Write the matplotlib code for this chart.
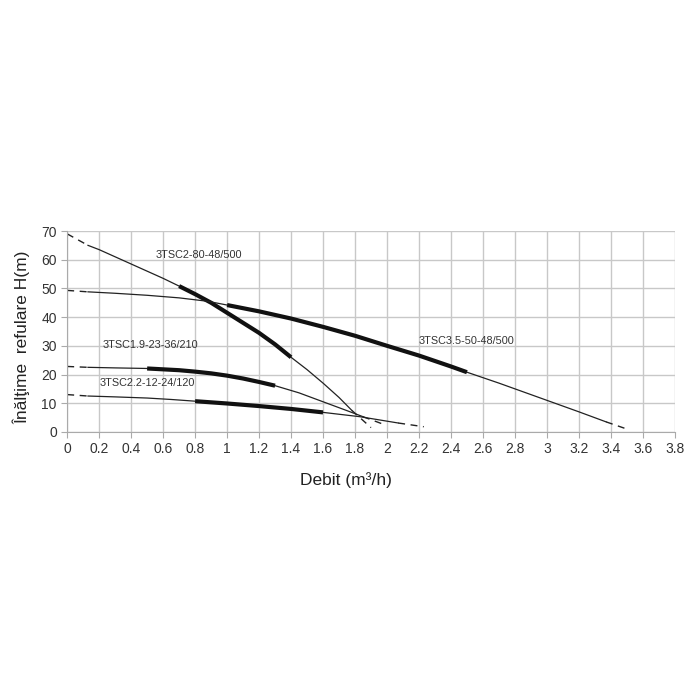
import numpy as np
import matplotlib
matplotlib.use("Agg")
import matplotlib.pyplot as plt

plt.rcParams['font.family'] = ['Liberation Sans', 'DejaVu Sans']

# pump curves: (flow m3/h, head m)
names = ["3TSC2-80-48/500", "3TSC3.5-50-48/500", "3TSC1.9-23-36/210", "3TSC2.2-12-24/120"]

q_2_80 = [0, 0.13, 0.2, 0.3, 0.4, 0.5, 0.6, 0.7, 0.8, 0.9, 1.0, 1.1, 1.2, 1.3, 1.4,
          1.5, 1.6, 1.7, 1.78, 1.9]
h_2_80 = [69, 65, 63.5, 61, 58.5, 56, 53.5, 50.8, 48, 45, 41.5, 38, 34.5, 30.5, 26,
          21.7, 17, 12, 7.5, 1.5]

q_3_5 = [0, 0.13, 0.3, 0.5, 0.7, 0.88, 1.0, 1.2, 1.4, 1.6, 1.8, 2.0, 2.2, 2.4, 2.5,
         2.7, 3.0, 3.2, 3.37, 3.5]
h_3_5 = [49.3, 48.8, 48.3, 47.6, 46.7, 45.5, 44.2, 42, 39.5, 36.6, 33.5, 30, 26.6, 22.8, 20.8,
         17, 11, 7, 3.5, 1]

q_1_9 = [0, 0.13, 0.3, 0.5, 0.7, 0.8, 0.9, 1.0, 1.1, 1.2, 1.3, 1.45, 1.6, 1.75, 1.85, 1.99]
h_1_9 = [22.8, 22.5, 22.3, 22.1, 21.5, 21, 20.4, 19.6, 18.6, 17.4, 16.1, 13.6, 10.5, 7.4, 5.3, 2.4]

q_2_2 = [0, 0.13, 0.3, 0.5, 0.65, 0.8, 1.0, 1.2, 1.4, 1.6, 1.83, 2.07, 2.23]
h_2_2 = [13, 12.5, 12.2, 11.8, 11.3, 10.7, 9.9, 9, 8, 6.8, 5.3, 3.1, 1.8]

# best efficiency range (drawn bold)
thick_from = [0.7, 1.0, 0.5, 0.8]
thick_to = [1.4, 2.5, 1.3, 1.6]

label_pos = [(0.55, 61.5), (2.2, 31.5), (0.22, 30.3), (0.2, 17)]

curves = [(q_2_80, h_2_80), (q_3_5, h_3_5), (q_1_9, h_1_9), (q_2_2, h_2_2)]

fig = plt.figure(figsize=(7, 7), dpi=100)
ax = fig.add_axes([0.096, 0.383, 0.868, 0.287])

for (q, h), a, b, name, pos in zip(curves, thick_from, thick_to, names, label_pos):
    q = np.array(q)
    h = np.array(h)
    # dashed extrapolated ends
    ax.plot(q[:2], h[:2], color='#222222', lw=1.0, ls=(0, (5, 4)))
    ax.plot(q[-2:], h[-2:], color='#222222', lw=1.0, ls=(0, (5, 4)))
    ax.plot(q[1:-1], h[1:-1], color='#222222', lw=0.9)
    m = (q >= a - 1e-9) & (q <= b + 1e-9)
    ax.plot(q[m], h[m], color='#111111', lw=3.0, solid_capstyle='butt',
            solid_joinstyle='round')
    ax.text(pos[0], pos[1], name, fontsize=7.8, color='#333333', va='center')

ax.set_xlim(0, 3.8)
ax.set_ylim(0, 70)
xt = np.round(np.arange(0, 3.81, 0.2), 1)
ax.set_xticks(xt)
ax.set_xticklabels([('%g' % v) for v in xt])
ax.set_yticks(np.arange(0, 71, 10))
ax.grid(True, color='#c8c8c8', lw=1.0)
ax.set_axisbelow(True)
for s in ['top', 'right']:
    ax.spines[s].set_visible(False)
for s in ['left', 'bottom']:
    ax.spines[s].set_color('#aaaaaa')
ax.tick_params(colors='#aaaaaa', labelcolor='#333333', labelsize=10, length=4)

ax.set_xlabel('Debit (m³/h)', fontsize=12.5, color='#222222')
ax.xaxis.set_label_coords(0.459, -0.2)
ax.set_ylabel('Înălţime  refulare H(m)', fontsize=12.5, color='#222222')
ax.yaxis.set_label_coords(-0.061, 0.47)

fig.savefig('out.png', dpi=100, facecolor='white')
